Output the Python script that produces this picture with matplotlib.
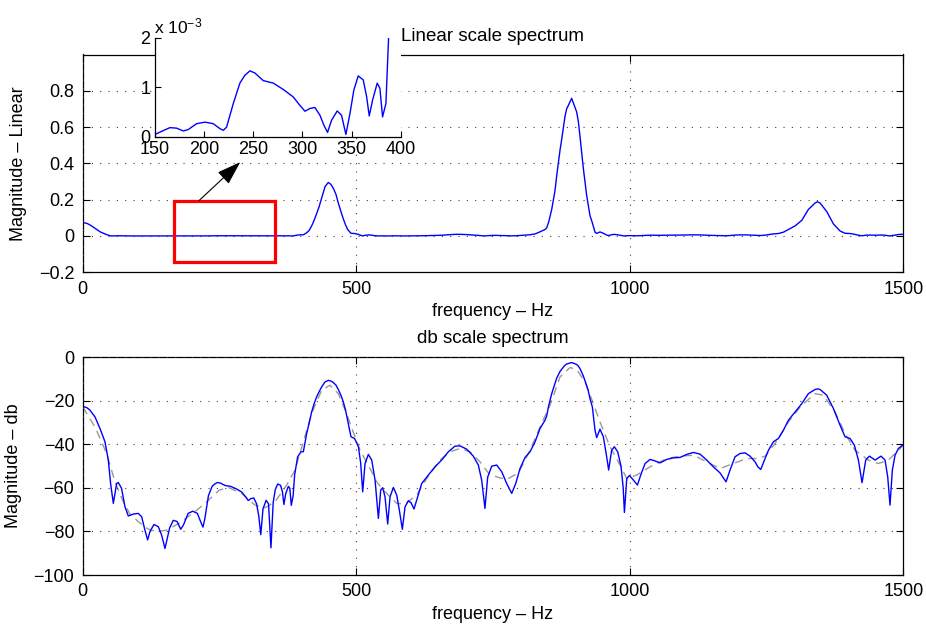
import matplotlib
matplotlib.use('Agg')
import matplotlib.pyplot as plt
import numpy as np
from matplotlib.patches import Rectangle

plt.rcParams['font.family'] = ['Liberation Sans', 'DejaVu Sans']
plt.rcParams['font.size'] = 13
plt.rcParams['mathtext.fontset'] = 'custom'
plt.rcParams['mathtext.rm'] = 'Liberation Sans'
plt.rcParams['mathtext.it'] = 'Liberation Sans'
plt.rcParams['axes.titley'] = 1.0

# ---- data ----
freq_hz = [
    0, 8, 13.3, 22.5, 31.6, 40.7, 46.8, 51, 56, 62, 65, 71,
    77.3, 83.4, 92.5, 101.6, 107.7, 113.8, 118.7, 123, 130.3, 138.2, 144.3, 150.4,
    158.9, 165.6, 172.4, 179.2, 184.2, 192.7, 201.2, 209.6, 216.4, 219.8, 223.1, 229.9,
    236.6, 241.7, 246.8, 251.9, 260.3, 270.5, 280.6, 290.7, 297.5, 302.6, 307.6, 312.7,
    317.8, 321.8, 325.5, 329.6, 335.3, 339.7, 344.1, 348.2, 352.2, 356.6, 361.7, 365.1,
    367.8, 371.2, 375.9, 378.6, 381.3, 384.7, 387.4,
    392.9, 399, 403.3, 409.4, 413.8, 418.5, 423, 427.6, 432, 436.8, 443, 449,
    453.5, 458.1, 463, 467.2, 472, 476.4, 480.5, 484.3, 490.4, 497,
    504, 508.2, 511.8, 516.1, 522.2, 528.3, 534.4, 540.5, 544.7, 548.4, 552.6, 557.5,
    561.8, 567.9, 574, 578.8, 584.3, 589.2, 595.3, 600.2, 605.6, 610.5, 619.6, 631.8,
    644, 656.2, 668.4, 680.5, 689.7, 701.9, 714, 723.2, 729.3, 735.3, 740.3, 747.7,
    756.8, 766, 775.1, 784.2, 791.5, 799.4, 808.6, 817.7, 826.9, 836,
    845.1, 848.1, 852, 857.2, 863.4, 866.4, 872.5, 875.5, 881.7, 884.6, 893.8, 902.9,
    906, 909, 915, 921.2, 924.3, 927.3, 931.6, 936.5,
    939.5, 945.6, 951.7, 957.8, 961.4, 966.9, 971.8, 977.9, 984, 988, 990.2, 994.5,
    999.4, 1006.7, 1014, 1020, 1028, 1037.1, 1046.2, 1055.4, 1067.6, 1079.7, 1091.9, 1104.1,
    1116.3, 1128.5, 1140.6, 1152.8, 1165, 1176, 1183.3, 1192.4, 1201.5, 1210.7, 1219.8, 1229,
    1234, 1239.5, 1246.2, 1253.5, 1262.6, 1271.7, 1280.9, 1290, 1302.2, 1314.4, 1326.5, 1338.7,
    1343, 1347.9, 1360, 1372.2, 1384.4, 1393.5, 1402.7, 1410.6, 1417.9, 1424.6, 1431.3, 1438,
    1448.4, 1459.3, 1466.6, 1471.5, 1475.7, 1480, 1484.9, 1491, 1500]
mag_db = [
    -22.5, -23.2, -24.3, -27.4, -32.7, -38.8, -47.2, -58, -67.1, -58, -57.5, -60.2,
    -68.7, -72.9, -72, -71.7, -73.2, -79.4, -83.9, -80, -76.8, -77.8, -81.7, -87.8,
    -78.4, -74.9, -75.4, -79, -77, -71.7, -70.7, -71.7, -76, -78, -74.4, -63.5,
    -59.3, -58.1, -57.5, -57.8, -58.9, -59.3, -60.4, -61.9, -64, -65.8, -64.9, -64.6,
    -67.3, -72.8, -81.5, -69.6, -65.7, -67.3, -87.5, -66.7, -60.5, -58.2, -58.8, -61.8,
    -67.6, -62.6, -59.3, -60.2, -68, -63.5, -54,
    -45.7, -43.4, -43.4, -35, -30.4, -25.1, -21.3, -18.2, -15.9, -13.6, -11.3, -10.6,
    -10.9, -11.6, -12.8, -14.8, -17.4, -20.5, -24.3, -28.9, -36.5, -37.3,
    -41.1, -48.8, -61.8, -48.8, -44.6, -47.2, -56.4, -74, -61, -59.9, -64.1, -76.6,
    -64.1, -59.8, -63.3, -70.2, -79, -68.7, -65.9, -66.8, -69.7, -65.6, -58, -54.1,
    -50.3, -47.2, -43.4, -40.8, -40.7, -42.2, -45.4, -49.5, -56.4, -69.4, -55, -50,
    -49.5, -52.6, -58, -62.5, -58, -51.1, -46, -43.4, -38.8, -32.7,
    -28.9, -27, -22, -16.8, -12, -9.6, -6.5, -5.5, -3.6, -3.1, -2.4, -3.3,
    -4.0, -5.2, -8.5, -13, -15.5, -19, -22.8, -33.5,
    -36.9, -33, -36.5, -45.7, -51.8, -42.7, -41.1, -43.4, -50, -60, -71.3, -55.7,
    -54.3, -56.4, -58.7, -54.1, -48.8, -46.9, -47.6, -48.5, -46.9, -46.2, -46, -44.6,
    -43.7, -44.5, -47.2, -50.3, -53.1, -57.2, -51.8, -45.7, -44.2, -43.9, -45.4, -48,
    -50.3, -51.5, -47.2, -42.7, -38.8, -37.3, -33.5, -28.9, -25.1, -21.3, -16.7, -14.8,
    -14.5, -14.8, -17.4, -23.5, -31.2, -36.5, -37.3, -40.4, -47.2, -57.6, -47.2, -45.4,
    -47.2, -45.4, -47.2, -54.9, -67.9, -51.8, -45, -41.9, -40.1]

smooth_hz = [0, 22.5, 43.8, 59, 74.2, 86.4, 101.6, 119.9, 135.1, 153.4, 177.8, 205.2,
             226.5, 249.6, 266.3, 290.6, 315, 333.3, 351.5, 372.8, 388, 403.3, 418.5,
             436.8, 452, 467.2, 482.4, 494, 507, 525.2, 537.4, 549.6, 574, 589.2, 610.5,
             628.8, 653.1, 671.4, 689.7, 708, 726.2, 743.3, 759.9, 775.1, 796.4, 817.7,
             836, 854.3, 872.5, 890.8, 903, 918.2, 933.4, 945.6, 963.9, 982.2, 994.5,
             1012.8, 1037.1, 1067.6, 1091.9, 1116.3, 1140.6, 1165, 1189.4, 1213.7, 1232,
             1247.4, 1265.6, 1290, 1314.4, 1338.7, 1353.9, 1375.3, 1393.5, 1411.8,
             1436.1, 1454.4, 1472.7, 1491, 1500]
smooth_db = [-22.8, -32, -44.2, -57.2, -66.4, -72, -75.5, -78.9, -80.1, -79.4, -76,
             -70.9, -66.4, -61, -59.8, -62.5, -67.9, -69.1, -66.4, -58.7, -51.8, -38.8,
             -25.8, -15.1, -12.8, -16.7, -25.8, -34, -42.7, -51.1, -57.2, -61, -67.1,
             -67.4, -63.3, -55.7, -47.2, -43.4, -41.9, -43.4, -48, -53.7, -55.2, -56.1,
             -53.1, -42.7, -32, -22, -9, -4.7, -5.7, -11.3, -21.3, -29.7, -41.1, -49.5,
             -55.7, -54.1, -50.3, -46.5, -45.4, -45, -48, -51.1, -48.8, -46.5, -46.5,
             -45.4, -39.6, -29.7, -22, -16.7, -17.4, -25.1, -35, -42.7, -47.2, -48.8,
             -47.2, -42.7, -40.4]

lin_ticks = [-0.2, 0, 0.2, 0.4, 0.6, 0.8]
lin_tick_labels = ['\u22120.2', '0', '0.2', '0.4', '0.6', '0.8']
db_ticks = [-100, -80, -60, -40, -20, 0]
freq_ticks = [0, 500, 1000, 1500]
inset_xticks = [150, 200, 250, 300, 350, 400]
inset_yticks = [0, 1, 2]

assert len(freq_hz) == len(mag_db)
assert len(smooth_hz) == len(smooth_db)

freq = np.array(freq_hz)
db = np.array(mag_db)
lin = 10 ** (db / 20.0)

W, H = 926, 624
fig = plt.figure(figsize=(W / 100, H / 100), dpi=100)

def px_axes(left, top, right, bottom):
    return fig.add_axes([left / W, 1 - bottom / H, (right - left) / W, (bottom - top) / H])

ax1 = px_axes(82.7, 54.5, 903.3, 272.3)
ax2 = px_axes(82.7, 357.3, 903.3, 575.0)

grid_kw = dict(color='0.25', linestyle=(0, (1, 6.5)), linewidth=0.8)

def style(ax):
    for s in ax.spines.values():
        s.set_linewidth(0.9)
        s.set_color('k')
    ax.tick_params(direction='in', top=True, right=True, length=5, width=0.8, pad=6)
    ax.grid(True, **grid_kw)
    ax.set_axisbelow(False)

# top: linear
ax1.plot(freq, lin, color=(0, 0, 1), lw=1.0)
ax1.set_xlim(0, 1500)
ax1.set_ylim(-0.2, 1.0)
ax1.set_xticks(freq_ticks)
ax1.set_yticks(lin_ticks)
ax1.set_yticklabels(lin_tick_labels)
style(ax1)
ax1.set_xlabel('frequency \u2013 Hz', labelpad=4)
ax1.set_ylabel('Magnitude \u2013 Linear', labelpad=8.5)
ax1.set_title('Linear scale spectrum', pad=10, fontsize=13.5)

ax1.add_patch(Rectangle((167, -0.142), 184, 0.335, fill=False, edgecolor=(1, 0, 0),
                        lw=2.3, zorder=4))
ax1.annotate('', xy=(288, 0.407), xytext=(212.6, 0.195),
             arrowprops=dict(arrowstyle='-|>,head_length=0.75,head_width=0.25',
                             color='k', lw=0.8, mutation_scale=20,
                             shrinkA=0, shrinkB=0),
             annotation_clip=False, zorder=6)

# bottom: dB
ax2.plot(smooth_hz, smooth_db, color='0.6', lw=1.0, linestyle=(0, (6, 4)))
ax2.plot(freq, db, color=(0, 0, 1), lw=1.0)
ax2.set_xlim(0, 1500)
ax2.set_ylim(-100, 0)
ax2.set_xticks(freq_ticks)
ax2.set_yticks(db_ticks)
style(ax2)
ax2.set_xlabel('frequency \u2013 Hz', labelpad=4)
ax2.set_ylabel('Magnitude \u2013 db', labelpad=8.5)
ax2.set_title('db scale spectrum', pad=10, fontsize=13.5)

# inset
axi = px_axes(154.5, 38.0, 401.0, 136.5)
axi.set_facecolor('white')
axi.plot(freq, lin * 1000, color=(0, 0, 1), lw=1.0)
axi.set_xlim(150, 400)
axi.set_ylim(0, 2)
axi.set_xticks(inset_xticks)
axi.set_yticks(inset_yticks)
axi.spines['top'].set_visible(False)
axi.spines['right'].set_visible(False)
for s in ['left', 'bottom']:
    axi.spines[s].set_linewidth(0.9)
axi.tick_params(direction='in', length=4, width=0.8, pad=3)
axi.text(0.0, 1.05, r'x 10$^{\mathrm{-3}}$', transform=axi.transAxes, ha='left',
         va='baseline', fontsize=12.5)

fig.savefig('out.png', dpi=100)
